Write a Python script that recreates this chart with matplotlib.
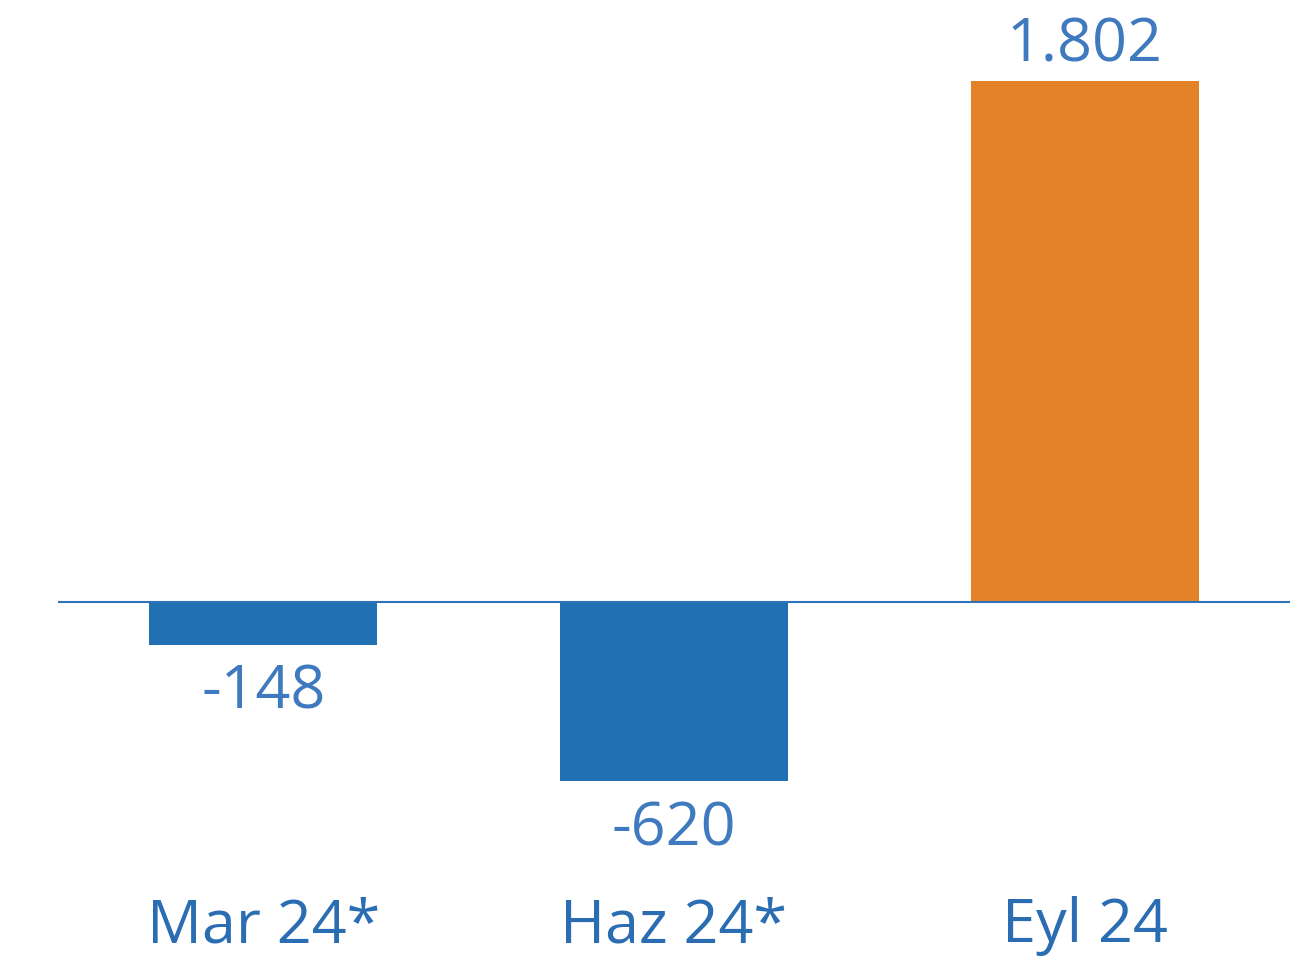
import matplotlib
matplotlib.use('Agg')
import matplotlib.pyplot as plt

categories = ['Mar 24*', 'Haz 24*', 'Eyl 24']
values = [-148, -620, 1802]
value_labels = ['-148', '-620', '1.802']
bar_colors = ['#2170b4', '#2170b4', '#e48227']

plt.rcParams['font.family'] = ['Open Sans', 'DejaVu Sans']

fig = plt.figure(figsize=(13.12, 9.61), dpi=100, facecolor='white')
ax = fig.add_axes([58 / 1312, 0, 1232 / 1312, 1])
ax.set_axis_off()

x = list(range(len(categories)))
ax.bar(x, values, width=0.555, color=bar_colors, zorder=2)
ax.axhline(0, color='#2f72b6', linewidth=1.5, zorder=3)
ax.set_xlim(-0.5, 2.5)
ax.set_ylim(-1242, 2082)

for i, v in enumerate(values):
    if v >= 0:
        ax.annotate(value_labels[i], (i, v), xytext=(0, 4), textcoords='offset points',
                    ha='center', va='bottom', fontsize=44, color='#3f7abf')
    else:
        ax.annotate(value_labels[i], (i, v), xytext=(0, -13), textcoords='offset points',
                    ha='center', va='top', fontsize=44, color='#3f7abf')

for i, c in enumerate(categories):
    ax.text(i, -1122, c, ha='center', va='center', fontsize=44, color='#2a6db2')

fig.savefig('out.png', dpi=100, facecolor='white')
